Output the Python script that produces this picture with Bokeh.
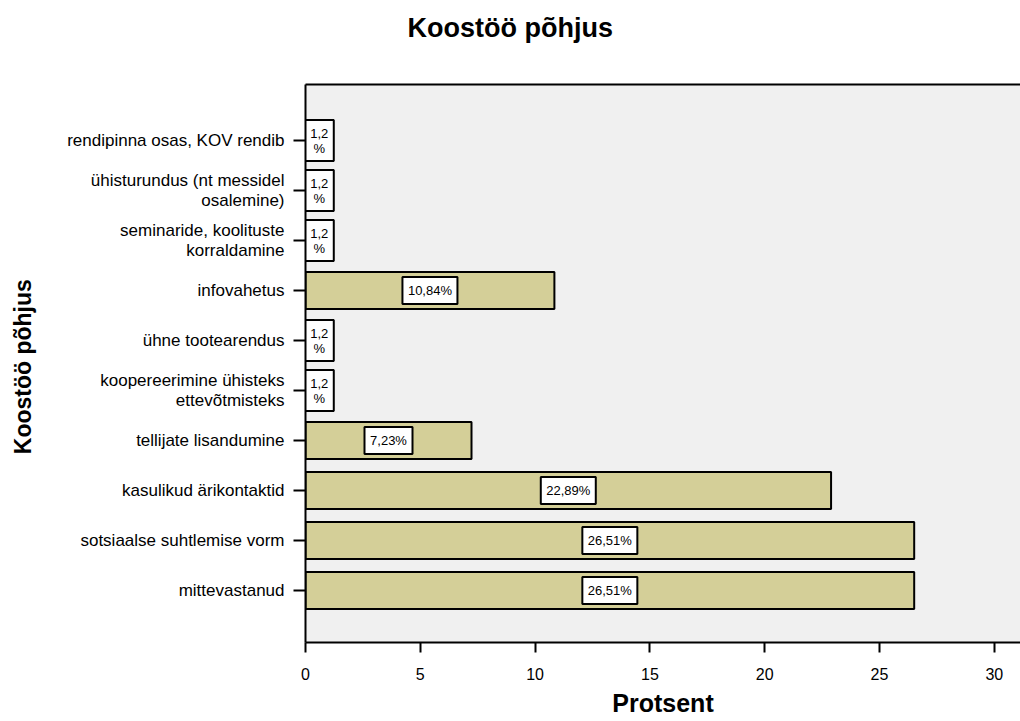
from bokeh.plotting import figure
from bokeh.models import Range1d, FixedTicker, LinearAxis, ColumnDataSource
from bokeh.core.properties import value
from bokeh.embed import file_html
from bokeh.resources import INLINE

# ---- data (bottom to top) ----
categories = [
    "mittevastanud",
    "sotsiaalse suhtlemise vorm",
    "kasulikud ärikontaktid",
    "tellijate lisandumine",
    "koopereerimine ühisteks\nettevõtmisteks",
    "ühne tootearendus",
    "infovahetus",
    "seminaride, koolituste\nkorraldamine",
    "ühisturundus (nt messidel\nosalemine)",
    "rendipinna osas, KOV rendib",
]
percent = [26.51, 26.51, 22.89, 7.23, 1.20, 1.20, 10.84, 1.20, 1.20, 1.20]
value_labels = ["26,51%", "26,51%", "22,89%", "7,23%", "1,2\n%", "1,2\n%",
                "10,84%", "1,2\n%", "1,2\n%", "1,2\n%"]
x_ticks = [0, 5, 10, 15, 20, 25, 30]
chart_title = "Koostöö  põhjus"
x_title = "Protsent"
y_title = "Koostöö  põhjus"

FONT = "Liberation Sans"
NARROW = "Liberation Sans Narrow, Liberation Sans"

pos = list(range(1, len(categories) + 1))
mid = [v / 2 for v in percent]
box_w = [29 if "\n" in s else 7 * len(s) + 13 for s in value_labels]
box_h = [41 if "\n" in s else 27 for s in value_labels]

src = ColumnDataSource(dict(pos=pos, val=percent, mid=mid, lbl=value_labels,
                            bw=box_w, bh=box_h))

p = figure(width=1020, height=721, output_backend="svg", toolbar_location=None,
           x_range=Range1d(0, 31.14), y_range=Range1d(-0.04, 11.12),
           min_border_left=305, min_border_right=0, min_border_top=84,
           min_border_bottom=79, background_fill_color="#f0f0f0",
           border_fill_color="white", outline_line_color=None)

p.title.text = chart_title
p.title.align = "left"
p.title.offset = 102
p.title.standoff = 0
p.title.padding = dict(left=0, right=0, top=0, bottom=42)
p.title.text_font = FONT
p.title.text_font_style = "bold"
p.title.text_font_size = "27px"
p.title.text_color = "black"

p.xgrid.visible = False
p.ygrid.visible = False

p.hbar(y="pos", right="val", left=0, height=0.74, source=src,
       fill_color="#d4cf98", line_color="black", line_width=2)

p.rect(x="mid", y="pos", width="bw", height="bh", width_units="screen",
       height_units="screen", source=src, fill_color="white",
       line_color="black", line_width=2)
p.text(x="mid", y="pos", text="lbl", source=src, text_align="center",
       text_baseline="middle", text_font=value(NARROW), text_font_size="13px",
       text_line_height=1.0, text_color="black")

# axes
xa = p.xaxis[0]
xa.ticker = FixedTicker(ticks=x_ticks)
xa.axis_line_width = 2
xa.major_tick_line_width = 2
xa.major_tick_out = 10
xa.major_tick_in = 0
xa.minor_tick_line_color = None
xa.major_label_standoff = 15
xa.major_label_text_font = FONT
xa.major_label_text_font_size = "16px"
xa.major_label_text_color = "black"
xa.axis_label = x_title
xa.axis_label_standoff = 6
xa.axis_label_text_font = FONT
xa.axis_label_text_font_style = "bold"
xa.axis_label_text_font_size = "25px"
xa.axis_label_text_color = "black"

ya = p.yaxis[0]
ya.ticker = FixedTicker(ticks=pos)
ya.major_label_overrides = {k: c for k, c in zip(pos, categories)}
ya.axis_line_width = 2
ya.major_tick_line_width = 2
ya.major_tick_out = 12
ya.major_tick_in = 0
ya.minor_tick_line_color = None
ya.major_label_standoff = 9
ya.major_label_text_font = FONT
ya.major_label_text_font_size = "17px"
ya.major_label_text_line_height = 1.05
ya.major_label_text_color = "black"
ya.axis_label = y_title
ya.axis_label_standoff = 28
ya.axis_label_text_font = FONT
ya.axis_label_text_font_style = "bold"
ya.axis_label_text_font_size = "23px"
ya.axis_label_text_color = "black"

# top frame line (empty axis, no ticks)
top = LinearAxis(ticker=FixedTicker(ticks=[]), axis_line_width=2,
                 major_tick_line_color=None, minor_tick_line_color=None,
                 major_label_text_font_size="0px")
p.add_layout(top, "above")

open("out.html", "w").write(file_html(p, INLINE))
